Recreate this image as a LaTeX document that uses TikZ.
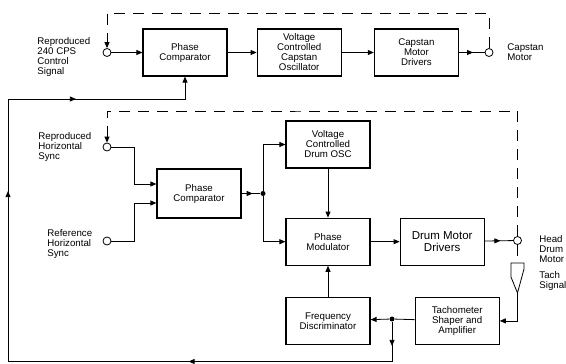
\documentclass[tikz,border=0pt]{standalone}
\usepackage{fontspec}
\setsansfont{Liberation Sans}
\usetikzlibrary{arrows.meta,positioning,decorations.markings}

\begin{document}
\begin{tikzpicture}[
  x=1pt,y=-1pt,
  font=\sffamily\fontsize{9.7}{10}\selectfont,
  line width=0.8pt,
  box/.style={draw,line width=1.2pt,align=center,minimum width=84pt,minimum height=47pt,inner sep=2pt},
  port/.style={draw,circle,fill=white,inner sep=0pt,minimum size=8pt},
  dot/.style={circle,fill,inner sep=0pt,minimum size=5pt},
  lbl/.style={align=left,inner sep=0pt},
  fb/.style={dash pattern=on 11pt off 8pt},
  midarr/.style={postaction={decorate,decoration={markings,mark=at position #1 with {\arrow{>}}}}},
  >={Triangle[length=6pt,width=5pt]}]
\useasboundingbox (0,0) rectangle (566,364);
% capstan servo
\node[box] (pc1) at (185,52.5) {Phase\\Comparator};
\node[box,right=29pt of pc1] (vcco) {Voltage\\Controlled\\Capstan\\Oscillator};
\node[box,right=32pt of vcco] (cmd) {Capstan\\Motor\\Drivers};
\node[port] (ctl) at (107,52.5) {};
\node[port] (cmot) at (489,52.5) {};
\node[lbl,anchor=north west] (ctllbl) at (37,37) {Reproduced\\240 CPS\\Control\\Signal};
\node[lbl,anchor=west] (cmotlbl) at (507,52) {Capstan\\Motor};
\coordinate (ctop) at (300,13);
\draw[->] (ctl) -- (pc1);
\draw[->] (pc1) -- (vcco);
\draw[->] (vcco) -- (cmd);
\draw[midarr=0.55] (cmd) -- (cmot);
\draw[fb,->] (cmot.north) |- (ctop) -| (ctl.north);
% drum servo
\node[box,minimum height=49pt] (pc2) at (199,193.5) {Phase\\Comparator};
\node[box] (vcdo) at (328,144.5) {Voltage\\Controlled\\Drum OSC};
\node[box,below=49pt of vcdo] (pm) {Phase\\Modulator};
\node[box,right=29pt of pm,font=\sffamily\fontsize{11.5}{12.5}\selectfont] (dmd) {Drum Motor\\Drivers};
\node[box,below=31pt of pm] (fd) {Frequency\\Discriminator};
\node[box,right=44pt of fd] (tsa) {Tachometer\\Shaper and\\Amplifier};
\node[port] (rhs) at (107,147) {};
\node[port] (refhs) at (107,241) {};
\node[port] (head) at (517.5,240.5) {};
\node[dot] (pcj) at (263,193.5) {};
\node[dot] (fdj) at (392,319) {};
\node[lbl,anchor=north west] (rhslbl) at (38,132) {Reproduced\\Horizontal\\Sync};
\node[lbl,anchor=north west] (refhslbl) at (47,229) {Reference\\Horizontal\\Sync};
\node[lbl,anchor=north west] (headlbl) at (539,235) {Head\\Drum\\Motor};
\node[lbl,anchor=north west] (tachlbl) at (539,271) {Tach\\Signal};
\coordinate (dtop) at (300,111);
\coordinate (tach) at (517.5,263);
\coordinate (tachp) at (517.5,293);
\draw[->] (rhs) -- ++(27,0) |- ([yshift=9.5pt]pc2.west);
\draw[->] (refhs) -- ++(27,0) |- ([yshift=-9.5pt]pc2.west);
\draw[midarr=0.6] (pc2) -- (pcj);
\draw[->] (pcj) |- (vcdo.west);
\draw[->] (pcj) |- (pm.west);
\draw[->] (vcdo) -- (pm);
\draw[->] (pm) -- (dmd);
\draw[midarr=0.55] (dmd) -- (head);
\draw[fb,->] (head.north) |- (dtop) -| (rhs.north);
\draw[fb] (head.south) -- (tach);
% tach pickup
\draw (tach) ++(-6.5,0) -- ++(13,0) -- ++(0,6) -- (tachp) -- ++(-6.5,-16) -- cycle;
\draw[->] (tachp) |- (tsa.east);
\draw (tsa) -- (fdj);
\draw[->] (fdj) -- (fd);
\draw[->] (fd) -- (pm);
% feedback to capstan comparator
\coordinate (fbc) at (392,361.5);
\coordinate (fbl) at (8,361.5);
\coordinate (fbt) at (8,99);
\draw[midarr=24pt,midarr=243pt,midarr=594pt,midarr=754pt,->]
  (fdj) -- (fbc) -- (fbl) -- (fbt) -| (pc1.south);
\end{tikzpicture}
\end{document}
